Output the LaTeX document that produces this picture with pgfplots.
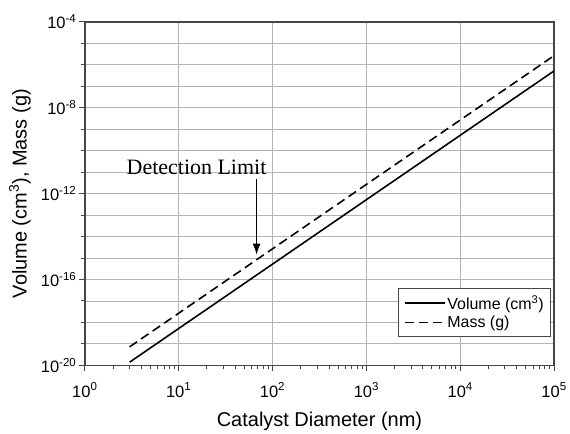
\documentclass[border=0pt]{standalone}
\usepackage{fontspec}
\setmainfont{Liberation Sans}
\newfontfamily\seriffont{Liberation Serif}
\usepackage{pgfplots}
\pgfplotsset{compat=1.18}
\usetikzlibrary{arrows.meta}

\definecolor{gridgray}{RGB}{180,180,180}
\definecolor{axisgray}{RGB}{70,70,70}

\begin{document}
\begin{tikzpicture}
\begin{loglogaxis}[
    scale only axis,
    width=470pt, height=344pt,
    xmin=1, xmax=1e5,
    ymin=1e-20, ymax=1e-4,
    xtick={1,10,100,1000,10000,100000},
    xticklabels={10\textsuperscript{0},10\textsuperscript{1},10\textsuperscript{2},10\textsuperscript{3},10\textsuperscript{4},10\textsuperscript{5}},
    minor xtick={2,3,4,5,6,7,8,9,20,30,40,50,60,70,80,90,200,300,400,500,600,700,800,900,2000,3000,4000,5000,6000,7000,8000,9000,20000,30000,40000,50000,60000,70000,80000,90000},
    ytick={1e-20,1e-16,1e-12,1e-8,1e-4},
    yticklabels={10\textsuperscript{-20},10\textsuperscript{-16},10\textsuperscript{-12},10\textsuperscript{-8},10\textsuperscript{-4}},
    minor ytick={1e-19,1e-18,1e-17,1e-15,1e-14,1e-13,1e-11,1e-10,1e-9,1e-7,1e-6,1e-5},
    xtick pos=left, ytick pos=left,
    tick align=outside,
    major tick length=6pt, minor tick length=4pt,
    tick style={axisgray, line width=1pt},
    xmajorgrids, ymajorgrids, yminorgrids,
    grid style={gridgray, line width=0.9pt},
    minor grid style={gridgray, line width=0.9pt},
    axis line style={axisgray, line width=1.4pt},
    xticklabel style={font=\fontsize{16.5}{18}\selectfont, yshift=-8pt},
    yticklabel style={font=\fontsize{16.5}{18}\selectfont, xshift=1pt},
    xlabel={Catalyst Diameter (nm)},
    ylabel={Volume (cm\textsuperscript{3}), Mass (g)},
    label style={font=\fontsize{20}{22}\selectfont},
    xlabel style={at={(axis description cs:0.5,-0.125)}, anchor=north},
    ylabel style={at={(axis description cs:-0.108,0.5)}, anchor=south},
    legend style={at={(rel axis cs:0.994,0.084)}, anchor=south east,
        draw=axisgray, line width=1pt, font=\fontsize{16}{18}\selectfont,
        row sep=1pt, inner xsep=5pt, inner ysep=5pt},
    legend cell align=left,
    legend image code/.code={\draw[#1] (0cm,0cm) -- (40pt,0cm);},
]
% volume of a sphere, pi/6 d^3
\addplot[black, line width=1.6pt] coordinates {(3,1.41e-20) (100000,5.24e-7)};
\addlegendentry{Volume (cm\textsuperscript{3})}
% mass
\addplot[black, line width=1.6pt, dash pattern=on 9pt off 5pt] coordinates {(3,7.3e-20) (100000,2.7e-6)};
\addlegendentry{Mass (g)}

\node[font=\seriffont\fontsize{22}{24}\selectfont] at (axis cs:15.5,1.6e-11) {Detection Limit};
\draw[black, line width=1pt, -{Latex[length=11pt,width=8pt]}] (axis cs:67.6,5e-12) -- (axis cs:67.6,1.45e-15);
\end{loglogaxis}
\path (current axis.south west) ++(-85pt,-64pt);
\path (current axis.north east) ++(15pt,22pt);
\end{tikzpicture}
\end{document}
